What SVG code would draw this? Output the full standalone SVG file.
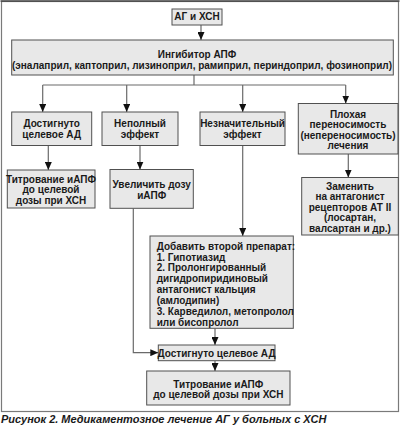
<svg xmlns="http://www.w3.org/2000/svg" width="400" height="426" viewBox="0 0 400 426">
<style>
.box{fill:#e8e8e8;stroke:#505050;stroke-width:1}
.t{font-family:"Liberation Sans",Arial,sans-serif;font-weight:bold;font-size:10px;fill:#1a1a1a}
.c{text-anchor:middle}
.ln{fill:none;stroke:#6a6a6a;stroke-width:1.2}
.cap{font-family:"Liberation Sans",Arial,sans-serif;font-weight:bold;font-style:italic;font-size:11px;fill:#1a1a1a}
</style>
<defs>
<marker id="ah" markerUnits="userSpaceOnUse" markerWidth="8" markerHeight="7" refX="8" refY="3.5" orient="auto">
<path d="M0,0 L8,3.5 L0,7 z" fill="#111"/>
</marker>
</defs>
<rect x="0" y="0" width="400" height="426" fill="#fff"/>
<rect x="1.5" y="1.5" width="397" height="410" fill="none" stroke="#7a7a7a" stroke-width="1.2"/>
<line x1="0.5" y1="1" x2="399.5" y2="1" stroke="#444" stroke-width="1.6"/>

<g id="connectors">
<line class="ln" x1="201" y1="25" x2="201" y2="40" marker-end="url(#ah)"/>
<polyline class="ln" points="194,75 194,85"/>
<line class="ln" x1="42.7" y1="85" x2="345.7" y2="85"/>
<line class="ln" x1="42.7" y1="85" x2="42.7" y2="112" marker-end="url(#ah)"/>
<line class="ln" x1="126.7" y1="85" x2="126.7" y2="112" marker-end="url(#ah)"/>
<line class="ln" x1="242.7" y1="85" x2="242.7" y2="112" marker-end="url(#ah)"/>
<line class="ln" x1="345.7" y1="85" x2="345.7" y2="103.5" marker-end="url(#ah)"/>
<line class="ln" x1="48.3" y1="145" x2="48.3" y2="170" marker-end="url(#ah)"/>
<line class="ln" x1="140" y1="145" x2="140" y2="169.5" marker-end="url(#ah)"/>
<line class="ln" x1="348.3" y1="154" x2="348.3" y2="177.5" marker-end="url(#ah)"/>
<line class="ln" x1="242.7" y1="145.5" x2="242.7" y2="236" marker-end="url(#ah)"/>
<polyline class="ln" points="133.3,208.5 133.3,352.7 158.3,352.7" marker-end="url(#ah)"/>
<line class="ln" x1="215" y1="328.5" x2="215" y2="345" marker-end="url(#ah)"/>
<line class="ln" x1="215" y1="361" x2="215" y2="371" marker-end="url(#ah)"/>
</g>

<g id="n-start">
<rect class="box" x="172" y="9" width="50" height="16"/>
<text class="t c" x="197" y="20">АГ и ХСН</text>
</g>
<g id="n-iapf">
<rect class="box" x="11.7" y="40" width="381.6" height="35"/>
<text class="t c" x="197" y="57.5">Ингибитор АПФ</text>
<text class="t c" x="202" y="69">(эналаприл, каптоприл, лизиноприл, рамиприл, периндоприл, фозиноприл)</text>
</g>
<g id="n-target">
<rect class="box" x="11.7" y="112" width="80" height="33.5"/>
<text class="t c" x="51.7" y="127">Достигнуто</text>
<text class="t c" x="51.7" y="137.5">целевое АД</text>
</g>
<g id="n-partial">
<rect class="box" x="102" y="112" width="76" height="33.5"/>
<text class="t c" x="140" y="127">Неполный</text>
<text class="t c" x="140" y="137.5">эффект</text>
</g>
<g id="n-minor">
<rect class="box" x="200" y="112" width="85" height="33.5"/>
<text class="t c" x="242.5" y="127">Незначительный</text>
<text class="t c" x="242.5" y="137.5">эффект</text>
</g>
<g id="n-intolerance">
<rect class="box" x="298.3" y="103.5" width="99.7" height="50.5"/>
<text class="t c" x="348" y="117.5">Плохая</text>
<text class="t c" x="348" y="128">переносимость</text>
<text class="t c" x="348" y="138.5">(непереносимость)</text>
<text class="t c" x="348" y="149">лечения</text>
</g>
<g id="n-titr1">
<rect class="box" x="7.3" y="170" width="87.7" height="38"/>
<text class="t c" x="51" y="182.5">Титрование иАПФ</text>
<text class="t c" x="51" y="193">до целевой</text>
<text class="t c" x="51" y="203.5">дозы при ХСН</text>
</g>
<g id="n-increase">
<rect class="box" x="110" y="169.5" width="83.3" height="38.8"/>
<text class="t c" x="151.7" y="187.5">Увеличить дозу</text>
<text class="t c" x="151.7" y="198.5">иАПФ</text>
</g>
<g id="n-replace">
<rect class="box" x="301.7" y="177.5" width="96.6" height="57.5"/>
<text class="t c" x="350" y="189.5">Заменить</text>
<text class="t c" x="350" y="200">на антагонист</text>
<text class="t c" x="350" y="210.5">рецепторов АТ II</text>
<text class="t c" x="350" y="221">(лосартан,</text>
<text class="t c" x="350" y="231.5">валсартан и др.)</text>
</g>
<g id="n-add">
<rect class="box" x="150" y="236" width="143.3" height="92.3"/>
<text class="t" x="156.7" y="249.5">Добавить второй препарат:</text>
<text class="t" x="156.7" y="260.5">1. Гипотиазид</text>
<text class="t" x="156.7" y="271.4">2. Пролонгированный</text>
<text class="t" x="156.7" y="282.3">дигидропиридиновый</text>
<text class="t" x="156.7" y="293.2">антагонист кальция</text>
<text class="t" x="156.7" y="304.1">(амлодипин)</text>
<text class="t" x="156.7" y="315">3. Карведилол, метопролол</text>
<text class="t" x="156.7" y="325.9">или бисопролол</text>
</g>
<g id="n-target2">
<rect class="box" x="158.3" y="345" width="116.7" height="15.7"/>
<text class="t c" x="216.5" y="356.5">Достигнуто целевое АД</text>
</g>
<g id="n-titr2">
<rect class="box" x="146.7" y="371" width="143.3" height="34"/>
<text class="t c" x="218.3" y="387.5">Титрование иАПФ</text>
<text class="t c" x="218.3" y="398">до целевой дозы при ХСН</text>
</g>
<text class="cap" x="1" y="423">Рисунок 2. Медикаментозное лечение АГ у больных с ХСН</text>
</svg>
